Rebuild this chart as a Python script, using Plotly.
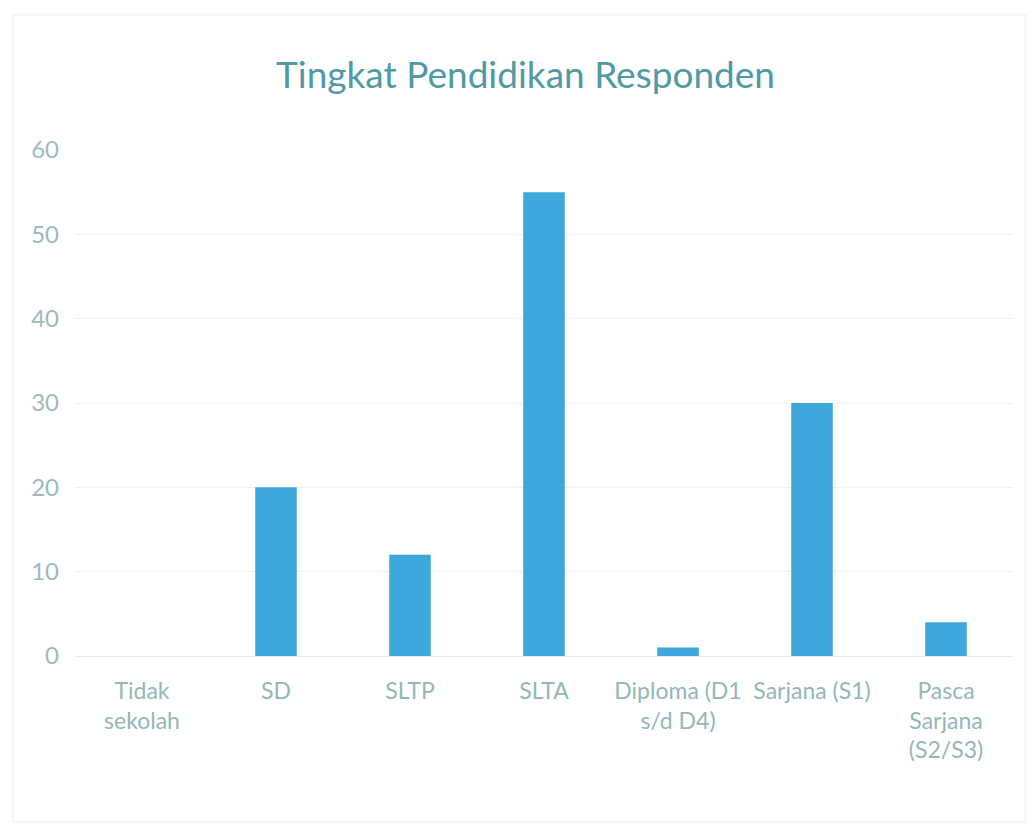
import plotly.graph_objects as go

categories = ["Tidak<br>sekolah", "SD", "SLTP", "SLTA", "Diploma (D1<br>s/d D4)", "Sarjana (S1)", "Pasca<br>Sarjana<br>(S2/S3)"]
values = [0, 20, 12, 55, 1, 30, 4]
y_ticks = [0, 10, 20, 30, 40, 50, 60]

fig = go.Figure(go.Bar(
    x=categories, y=values,
    marker=dict(color="#3ea8dc", line=dict(width=0)),
    width=0.31,
))

font_family = "Lato, 'Open Sans', sans-serif"
fig.update_layout(
    width=1035, height=828,
    paper_bgcolor="white", plot_bgcolor="white",
    margin=dict(l=67, r=30, t=142, b=180),
    title=dict(text="Tingkat Pendidikan Responden", x=0.5, xanchor="center",
               y=1 - 67/828, yanchor="middle",
               font=dict(family=font_family, size=37, color="#4f9aa3")),
    showlegend=False,
)
fig.update_yaxes(range=[0, 60], tickvals=y_ticks, showgrid=True, gridcolor="#f0f0f0", gridwidth=1,
                 zeroline=False, showline=False, ticks="", ticklabelstandoff=15,
                 tickfont=dict(family=font_family, size=24, color="#9bbbbd"))
fig.update_xaxes(showline=True, linecolor="#e8e8e8", linewidth=1, ticks="",
                 ticklabelstandoff=14, tickangle=0,
                 tickfont=dict(family=font_family, size=23, color="#93b7b9"))
fig.add_shape(type="rect", xref="paper", yref="paper", x0=-0.066, x1=1.013, y0=-0.328, y1=1.267,
              line=dict(color="#ececec", width=1))

fig.write_html("out.html")
